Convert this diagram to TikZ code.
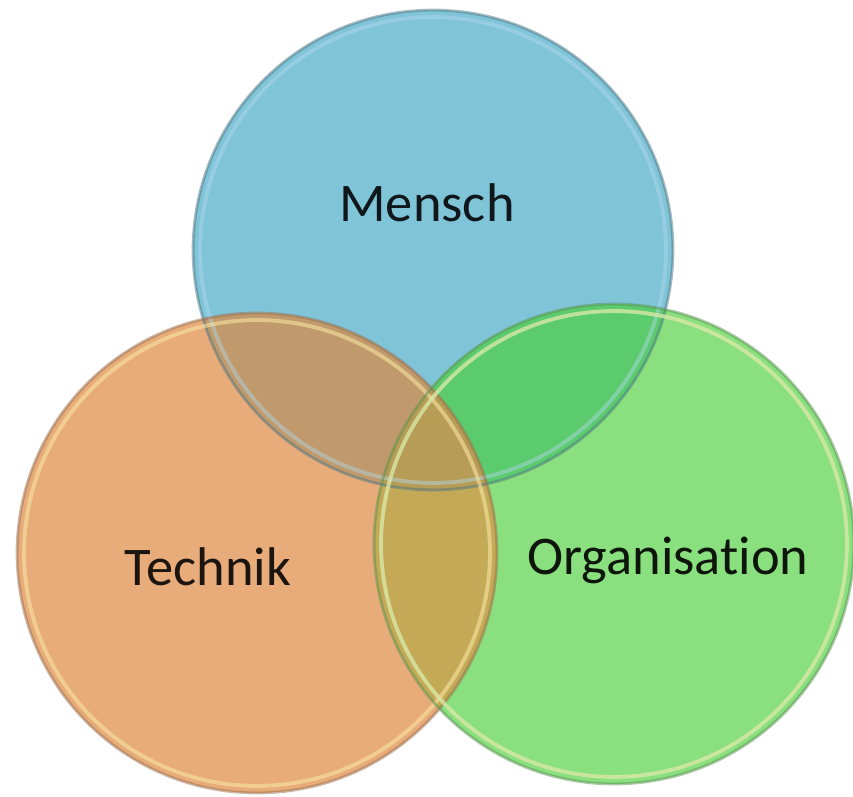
\documentclass[tikz,border=0pt]{standalone}
\usepackage{fontspec}
\setmainfont{Carlito}[Ligatures=NoCommon]
\definecolor{blauM}{RGB}{128,196,216}
\definecolor{orangeT}{RGB}{232,171,122}
\definecolor{gruenO}{RGB}{138,223,126}
\definecolor{blauorange}{RGB}{192,154,108}
\definecolor{blaugruen}{RGB}{92,203,110}
\definecolor{orangegruen}{RGB}{196,170,86}
\definecolor{alledrei}{RGB}{183,156,85}
\begin{document}
\begin{tikzpicture}[line join=round,line cap=round,x=0.02cm,y=-0.02cm,
	rand/.style={line width=1.6pt,draw opacity=0.5},
	ring/.style={line width=2.2pt,draw opacity=0.6},
	wort/.style={font=\fontsize{31}{36}\selectfont}]
	\def\r{4.8cm} % radius der kreise
	\def\ri{4.66cm} % radius innerer ring
	\useasboundingbox (0,0) rectangle (853,797);
	\path 
	(433,250) coordinate (M)
	(257,553) coordinate (T)
	(614,544) coordinate (O);
	% kreise
	\fill[blauM] (M) circle(\r);
	\fill[orangeT] (T) circle(\r);
	\fill[gruenO] (O) circle(\r);
	% ueberschneidungen
	\begin{scope}
		\clip (M) circle(\r);
		\fill[blauorange] (T) circle(\r);
		\fill[blaugruen] (O) circle(\r);
	\end{scope}
	\begin{scope}
		\clip (T) circle(\r);
		\fill[orangegruen] (O) circle(\r);
		\clip (O) circle(\r);
		\fill[alledrei] (M) circle(\r);
	\end{scope}
	% raender
	\draw[rand,blauM!60!black] (M) circle(\r);
	\draw[ring,cyan!30!blauM!50!white,draw opacity=0.45] (M) circle(\ri);
	\draw[rand,orangeT!65!black] (T) circle(\r);
	\draw[ring,yellow!40!orangeT!50!white] (T) circle(\ri);
	\draw[rand,gruenO!65!black] (O) circle(\r);
	\draw[ring,yellow!35!gruenO!55!white,draw opacity=0.8] (O) circle(\ri);
	% texte
	\node[wort,text=blauM!12!black] (mensch) at (427,203) {Mensch};
	\node[wort,text=orangeT!12!black] (technik) at (208,567) {Technik};
	\node[wort,text=gruenO!10!black] (organisation) at (668,560) {Organisation};
\end{tikzpicture}
\end{document}
